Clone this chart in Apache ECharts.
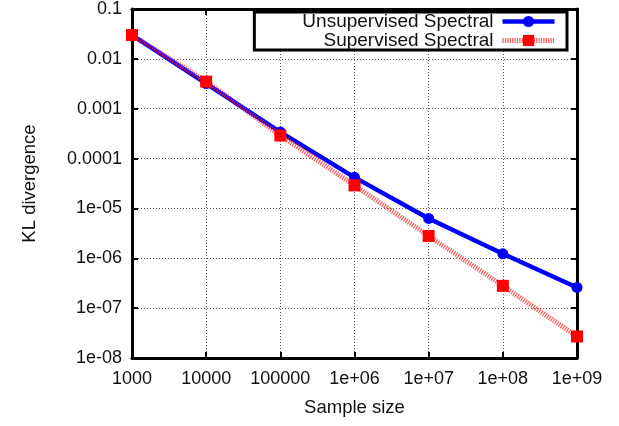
<!DOCTYPE html>
<html>
<head>
<meta charset="utf-8">
<script src="https://cdn.jsdelivr.net/npm/echarts@6/dist/echarts.min.js"></script>
<style>
	html, body { margin: 0; padding: 0; background: #fff; }
	#chart { width: 619px; height: 426px; }
</style>
</head>
<body>
<div id="chart"></div>
<script>
	// sample sizes (x) and KL divergence per method
	var sampleSizes = [1e3, 1e4, 1e5, 1e6, 1e7, 1e8, 1e9];
	var unsupervised = [0.030, 0.0032, 3.4e-4, 4.2e-5, 6.3e-6, 1.23e-6, 2.6e-7];
	var supervised = [0.030, 0.0035, 2.9e-4, 2.9e-5, 2.8e-6, 2.8e-7, 2.7e-8];

	// tick labels, indexed by decade
	var xTickLabels = ['1000', '10000', '100000', '1e+06', '1e+07', '1e+08', '1e+09'];
	var yTickLabels = ['1e-08', '1e-07', '1e-06', '1e-05', '0.0001', '0.001', '0.01', '0.1'];

	var font = 'Liberation Sans, Arial, sans-serif';

	function pairs(xs, ys) {
		return xs.map(function (x, i) { return [x, ys[i]]; });
	}

	var chart = echarts.init(document.getElementById('chart'));
	var frame = { show: true, onZero: false, lineStyle: { color: '#000', width: 3 } };
	var ticks = { show: true, inside: true, length: 6, lineStyle: { color: '#000', width: 2 } };
	var grid = { show: true, lineStyle: { color: '#555', width: 1, type: [1, 2] } };

	var redLine = { color: '#ff2020', width: 5, type: [1.2, 1.2], opacity: 0.75 };
	var blueLine = { color: '#0000ff', width: 4.5 };

	chart.setOption({
		animation: false,
		grid: { left: 132, right: 42, top: 6, bottom: 68 },
		legend: {
			orient: 'vertical',
			right: 52,
			top: 12,
			align: 'right',
			itemWidth: 52,
			itemHeight: 14,
			itemGap: 0,
			padding: [0, 10, 0, 48],
			borderColor: '#000',
			borderWidth: 3,
			backgroundColor: '#fff',
			textStyle: { fontFamily: font, fontSize: 19, color: '#111', padding: [0, 4, 0, 0] },
			data: [
				{ name: 'Unsupervised Spectral', lineStyle: blueLine },
				{ name: 'Supervised Spectral', lineStyle: redLine }
			]
		},
		xAxis: [{
			type: 'log', logBase: 10, min: 1e3, max: 1e9,
			name: 'Sample size', nameLocation: 'middle', nameGap: 40,
			nameTextStyle: { fontFamily: font, fontSize: 18.5, color: '#111' },
			axisLine: frame, axisTick: ticks, splitLine: grid,
			axisLabel: {
				margin: 12, fontFamily: font, fontSize: 18, color: '#111',
				formatter: function (v) { return xTickLabels[Math.round(Math.log10(v)) - 3]; }
			}
		}, {
			type: 'log', logBase: 10, min: 1e3, max: 1e9, position: 'top',
			axisLine: frame, axisTick: ticks, splitLine: { show: false }, axisLabel: { show: false }
		}],
		yAxis: [{
			type: 'log', logBase: 10, min: 1e-8, max: 0.1,
			name: 'KL divergence', nameLocation: 'middle', nameGap: 93, nameRotate: 90,
			nameTextStyle: { fontFamily: font, fontSize: 18.5, color: '#111' },
			axisLine: frame, axisTick: ticks, splitLine: grid,
			axisLabel: {
				margin: 10, fontFamily: font, fontSize: 18, color: '#111',
				formatter: function (v) { return yTickLabels[Math.round(Math.log10(v)) + 8]; }
			}
		}, {
			type: 'log', logBase: 10, min: 1e-8, max: 0.1, position: 'right',
			axisLine: frame, axisTick: ticks, splitLine: { show: false }, axisLabel: { show: false }
		}],
		series: [{
			name: 'Supervised Spectral',
			type: 'line',
			data: pairs(sampleSizes, supervised),
			symbol: 'rect',
			symbolSize: 12,
			itemStyle: { color: '#ff0000' },
			lineStyle: redLine,
			z: 3
		}, {
			name: 'Unsupervised Spectral',
			type: 'line',
			data: pairs(sampleSizes, unsupervised),
			symbol: 'circle',
			symbolSize: 11,
			itemStyle: { color: '#0000ff' },
			lineStyle: blueLine,
			z: 2
		}]
	});
</script>
</body>
</html>
